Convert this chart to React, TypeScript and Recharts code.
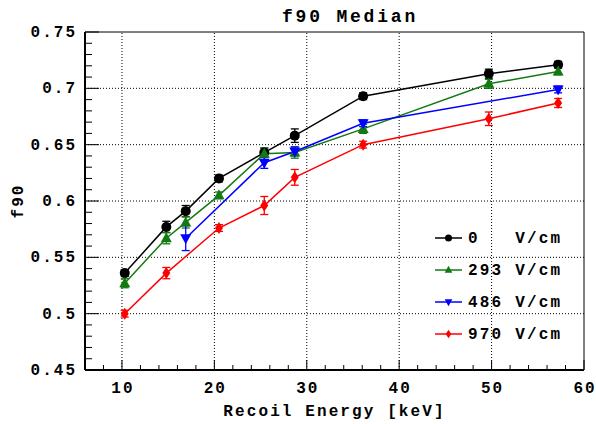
import React from "react";
import {
  LineChart,
  Line,
  XAxis,
  YAxis,
  ReferenceLine,
  ErrorBar,
  Legend,
  Customized,
} from "recharts";

// energies in keV
const energyAll = [10.3, 14.8, 16.9, 20.5, 25.4, 28.7, 36.1, 49.7, 57.2];
const energy486 = [16.9, 25.4, 28.7, 36.1, 57.2];
const energy970 = [10.3, 14.8, 20.5, 25.4, 28.7, 36.1, 49.7, 57.2];

const f90_0 = [0.536, 0.577, 0.591, 0.62, 0.643, 0.658, 0.693, 0.713, 0.721];
const err_0 = [0.003, 0.005, 0.005, 0.003, 0.004, 0.006, 0.003, 0.004, 0.003];
const f90_293 = [0.527, 0.567, 0.581, 0.605, 0.642, 0.643, 0.664, 0.704, 0.715];
const err_293 = [0.004, 0.005, 0.005, 0.003, 0.005, 0.005, 0.004, 0.004, 0.003];
const f90_486 = [0.567, 0.634, 0.644, 0.669, 0.699];
const err_486 = [0.011, 0.005, 0.004, 0.003, 0.003];
const f90_970 = [0.5, 0.536, 0.576, 0.596, 0.621, 0.65, 0.673, 0.687];
const err_970 = [0.003, 0.005, 0.003, 0.008, 0.007, 0.003, 0.006, 0.004];

const xTicks = [6, 8, 10, 12, 14, 16, 18, 20, 22, 24, 26, 28, 30, 32, 34, 36, 38, 40, 42, 44, 46, 48, 50, 52, 54, 56, 58, 60];
const xMajor = [10, 20, 30, 40, 50, 60];
const yTicks = [
  0.45, 0.46, 0.47, 0.48, 0.49, 0.5, 0.51, 0.52, 0.53, 0.54, 0.55, 0.56, 0.57, 0.58, 0.59, 0.6,
  0.61, 0.62, 0.63, 0.64, 0.65, 0.66, 0.67, 0.68, 0.69, 0.7, 0.71, 0.72, 0.73, 0.74, 0.75,
];
const yMajor = [0.45, 0.5, 0.55, 0.6, 0.65, 0.7, 0.75];
const xGrid = [10, 20, 30, 40, 50];
const yGrid = [0.5, 0.55, 0.6, 0.65, 0.7];

const FONT = "'Liberation Mono', 'DejaVu Sans Mono', monospace";

type Shape = "circle" | "up" | "down" | "diamond";

const rows = (xs: number[], ys: number[], es: number[]) =>
  xs.map((x, i) => ({ x, y: ys[i], err: es[i] }));

const series = [
  { name: "0   V/cm", color: "#000000", shape: "circle" as Shape, data: rows(energyAll, f90_0, err_0) },
  { name: "293 V/cm", color: "#137a13", shape: "up" as Shape, data: rows(energyAll, f90_293, err_293) },
  { name: "486 V/cm", color: "#0000ff", shape: "down" as Shape, data: rows(energy486, f90_486, err_486) },
  { name: "970 V/cm", color: "#ff0000", shape: "diamond" as Shape, data: rows(energy970, f90_970, err_970) },
];

function Marker({ cx, cy, shape, color, s = 1 }: { cx: number; cy: number; shape: Shape; color: string; s?: number }) {
  if (shape === "circle") return <circle cx={cx} cy={cy} r={5 * s} fill={color} />;
  if (shape === "up")
    return (
      <polygon
        points={`${cx},${cy - 6 * s} ${cx - 5.5 * s},${cy + 4 * s} ${cx + 5.5 * s},${cy + 4 * s}`}
        fill={color}
      />
    );
  if (shape === "down")
    return (
      <polygon
        points={`${cx},${cy + 6 * s} ${cx - 5.5 * s},${cy - 4 * s} ${cx + 5.5 * s},${cy - 4 * s}`}
        fill={color}
      />
    );
  return (
    <polygon
      points={`${cx},${cy - 6 * s} ${cx + 4 * s},${cy} ${cx},${cy + 6 * s} ${cx - 4 * s},${cy}`}
      fill={color}
    />
  );
}

const isMajor = (v: number, list: number[]) => list.some((m) => Math.abs(m - v) < 1e-6);

const labelStyle = { fontFamily: FONT, fontWeight: "bold", fontSize: 16, letterSpacing: 2, fill: "#000" };

function XTick(props: any) {
  const { x, y, payload } = props;
  const major = isMajor(payload.value, xMajor);
  return (
    <g>
      <line x1={x} x2={x} y1={y} y2={y - (major ? 10 : 5)} stroke="#000" strokeWidth={1} />
      {major && (
        <text x={x + 1} y={y + 23} textAnchor="middle" style={labelStyle}>
          {payload.value}
        </text>
      )}
    </g>
  );
}

function YTick(props: any) {
  const { x, y, payload } = props;
  const major = isMajor(payload.value, yMajor);
  return (
    <g>
      <line x1={x} x2={x + (major ? 14 : 7)} y1={y} y2={y} stroke="#000" strokeWidth={1} />
      {major && (
        <text x={x - 8} y={y + 5} textAnchor="end" style={labelStyle}>
          {String(Number(payload.value.toFixed(2)))}
        </text>
      )}
    </g>
  );
}

function LegendBox() {
  return (
    <svg width={160} height={132}>
      {series.map((s, i) => {
        const cy = 16 + i * 32;
        return (
          <g key={s.name}>
            <line x1={5} x2={32} y1={cy} y2={cy} stroke={s.color} strokeWidth={1.5} />
            <Marker cx={18.5} cy={cy} shape={s.shape} color={s.color} s={0.7} />
            <text x={38} y={cy + 5} style={{ ...labelStyle, letterSpacing: 2.2, whiteSpace: "pre" }}>
              {s.name}
            </text>
          </g>
        );
      })}
    </svg>
  );
}

function Title() {
  return (
    <text x={350} y={22} textAnchor="middle" style={{ ...labelStyle, fontSize: 18, letterSpacing: 2.8 }}>
      f90 Median
    </text>
  );
}

export default function App() {
  return (
    <div style={{ position: "absolute", left: 0, top: 0, width: 596, height: 424, background: "#fff" }}>
      <LineChart width={596} height={424} margin={{ top: 32, right: 12, bottom: 0, left: 0 }}>
        <XAxis
          type="number"
          dataKey="x"
          domain={[6, 60]}
          ticks={xTicks}
          interval={0}
          allowDataOverflow
          height={54}
          tickSize={0}
          tickMargin={0}
          tickLine={false}
          axisLine={{ stroke: "#000", strokeWidth: 2 }}
          tick={<XTick />}
          label={{
            value: "Recoil Energy [keV]",
            position: "insideBottom",
            offset: 8,
            style: { ...labelStyle, letterSpacing: 2.1 },
          }}
        />
        <YAxis
          type="number"
          domain={[0.45, 0.75]}
          ticks={yTicks}
          interval={0}
          allowDataOverflow
          width={85}
          tickSize={0}
          tickMargin={0}
          tickLine={false}
          axisLine={{ stroke: "#000", strokeWidth: 2 }}
          tick={<YTick />}
          label={{
            value: "f90",
            angle: -90,
            position: "insideLeft",
            offset: 17,
            style: { ...labelStyle, textAnchor: "middle" },
          }}
        />
        {xGrid.map((v) => (
          <ReferenceLine key={"gx" + v} x={v} stroke="#000" strokeDasharray="1 2" strokeWidth={1} />
        ))}
        {yGrid.map((v) => (
          <ReferenceLine key={"gy" + v} y={v} stroke="#000" strokeDasharray="1 2" strokeWidth={1} />
        ))}
        <ReferenceLine y={0.75} stroke="#000" strokeWidth={1} />
        <ReferenceLine x={60} stroke="#000" strokeWidth={1} />
        {series.map((s) => (
          <Line
            key={s.name}
            name={s.name}
            data={s.data}
            dataKey="y"
            type="linear"
            stroke={s.color}
            strokeWidth={1.5}
            isAnimationActive={false}
            activeDot={false}
            dot={(p: any) => <Marker key={p.index} cx={p.cx} cy={p.cy} shape={s.shape} color={s.color} />}
          >
            <ErrorBar dataKey="err" direction="y" width={4} strokeWidth={1.3} stroke={s.color} isAnimationActive={false} />
          </Line>
        ))}
        <Legend
          layout="vertical"
          align="center"
          verticalAlign="middle"
          content={() => <LegendBox />}
          wrapperStyle={{ position: "absolute", left: 430, top: 222, width: 160, height: 132 }}
        />
        <Customized component={Title} />
      </LineChart>
    </div>
  );
}
